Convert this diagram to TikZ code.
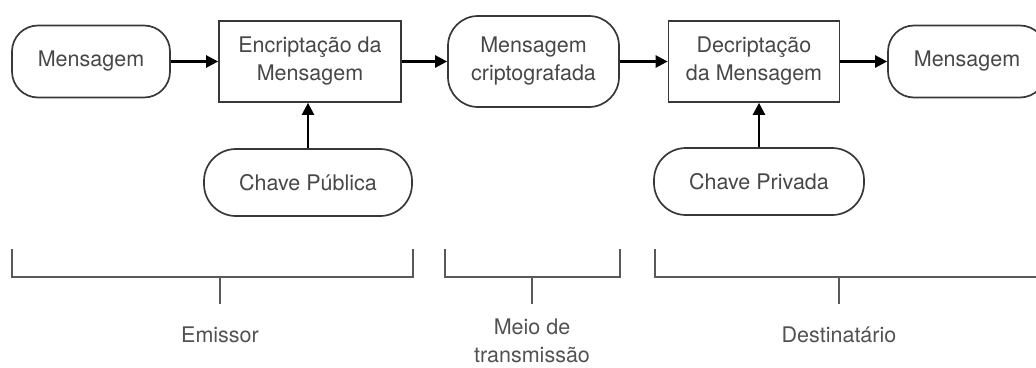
\documentclass[tikz,border=0pt]{standalone}
\usepackage{fontspec}
\setmainfont{TeX Gyre Heros}
\usetikzlibrary{positioning, arrows.meta, calc}

\begin{document}
\begin{tikzpicture}[x=1pt, y=-1pt, ->, >={Triangle[length=12pt,width=12pt]}, line width=2.4pt,
  font=\fontsize{21.5}{28}\selectfont,
  caixa/.style={draw=black!78, line width=1.7pt, rectangle, align=center, text=black!72, inner sep=0pt},
  pilula/.style={caixa, rounded corners=#1},
  pilula/.default=26pt,
  chave/.style={draw=black!65, line width=1.3pt, -},
  rotulo/.style={align=center, text=black!68, inner sep=0pt}]
  \useasboundingbox (0,0) rectangle (1036,367);
  % linha de cima
  \node[pilula, minimum width=158pt, minimum height=72pt] (msg) at (91,61.5) {Mensagem};
  \node[caixa, minimum width=182pt, minimum height=81pt] (encrip) at (310,61.5) {Encriptação da\\Mensagem};
  \node[pilula=30pt, minimum width=171pt, minimum height=91pt] (cripto) at (533.5,61.5) {Mensagem\\criptografada};
  \node[caixa, minimum width=171pt, minimum height=81pt] (decrip) at (754,61.5) {Decriptação\\da Mensagem};
  \node[pilula, minimum width=158pt, minimum height=72pt] (msgfinal) at (967,61.5) {Mensagem};
  % chaves
  \node[pilula=32pt, minimum width=208pt, minimum height=67pt] (publica) at (308,182.5) {Chave Pública};
  \node[pilula=32pt, minimum width=210pt, minimum height=67pt] (privada) at (759,181.5) {Chave Privada};
  \path
    (msg.east) edge (encrip.west)
    (encrip.east) edge (cripto.west)
    (cripto.east) edge (decrip.west)
    (decrip.east) edge (msgfinal.west)
    (publica.north) edge (publica.north |- encrip.south)
    (privada.north) edge (privada.north |- decrip.south);
  % grupos
  \node[rotulo] (emissor) at (220,335) {Emissor};
  \node[rotulo] (meio) at (532,341) {Meio de\\transmissão};
  \node[rotulo] (destino) at (839,335) {Destinatário};
  \coordinate (e1) at (12,249);  \coordinate (e2) at (413,249);
  \coordinate (m1) at (445,249); \coordinate (m2) at (620,249);
  \coordinate (d1) at (655,249); \coordinate (d2) at (1040,249);
  \draw[chave] (e1) |- (e2 |- 0,277) -- (e2);
  \draw[chave] (m1) |- (m2 |- 0,277) -- (m2);
  \draw[chave] (d1) |- (d2 |- 0,277) -- (d2);
  \draw[chave] (emissor |- 0,277) -- (emissor |- 0,304);
  \draw[chave] (meio |- 0,277) -- (meio |- 0,304);
  \draw[chave] (destino |- 0,277) -- (destino |- 0,304);
\end{tikzpicture}
\end{document}
